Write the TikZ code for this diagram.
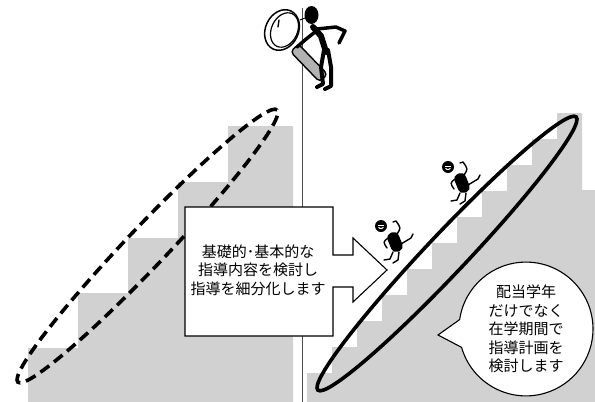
\documentclass[tikz,border=0pt]{standalone}
\usepackage{fontspec}
\newfontfamily\jp{Noto Sans CJK JP}
\usetikzlibrary{shapes.geometric,shapes.callouts}

\tikzset{
  stairfill/.style={fill=black!18},
  oval/.style={ellipse, draw=black, line width=3.6pt, inner sep=0pt,
    minimum width=376pt, minimum height=40pt},
  jptext/.style={font=\jp\fontsize{15}{18.5}\selectfont, align=center, text=black},
  outline/.style={draw=black, line width=1.1pt},
  limb/.style={line width=1.4pt, line cap=round, line join=round},
  walker/.pic={
    % body
    \fill[rounded corners=5pt, rotate=22] (-6,-10) rectangle (6,10);
    % head with its white "e" mark
    \fill (-14,-16) circle [radius=6];
    \draw[white, line width=1pt] (-16.7,-16.3) -- (-11.4,-16.3);
    \draw[white, line width=1pt] (-11.6,-14.8) arc [start angle=30, end angle=150, radius=2.8];
    % arms
    \draw[limb] (2,-8) .. controls (6,-14) .. (1,-21) -- (-2,-20);
    \draw[limb] (6,2) -- (16,-4) -- (18,-8);
    \draw[limb] (-7,-4) .. controls (-12,0) .. (-8,6);
    % legs
    \draw[limb] (-2,10) -- (-5,17) -- (-11,18);
    \draw[limb] (4,10) -- (3,18) -- (-2,21);
  }
}

\begin{document}
\begin{tikzpicture}[x=1pt, y=-1pt]
\useasboundingbox (0,0) rectangle (595,402);

% broad steps on the left
\fill[stairfill] (28,402) -- (28,348) -- (78,348) -- (78,293) -- (128,293)
  -- (128,238) -- (178,238) -- (178,182) -- (228,182) -- (228,126)
  -- (293,126) -- (293,402) -- cycle;

% finer steps on the right
\fill[stairfill] (307,402) -- (307,373) -- (332,373) -- (332,347) -- (357,347)
  -- (357,321) -- (382,321) -- (382,295) -- (407,295) -- (407,269)
  -- (432,269) -- (432,243) -- (457,243) -- (457,217) -- (482,217)
  -- (482,191) -- (507,191) -- (507,165) -- (532,165) -- (532,139)
  -- (557,139) -- (557,113) -- (582,113) -- (582,190) -- (595,190)
  -- (595,402) -- cycle;

% dividing line
\coordinate (ltop) at (302,8);
\coordinate (lbot) at (302,402);
\draw[black!70, line width=0.9pt] (ltop) -- (lbot);

% the two ovals
\node[oval, dashed, dash pattern=on 11pt off 6pt, rotate=46.4] (broad) at (147.5,246) {};
\node[oval, rotate=46.6] (fine) at (447,253.5) {};

% box with arrow
\draw[outline, fill=white] (185,207) -- (333,207) -- (333,255) -- (353,255)
  -- (353,238) -- (387,270) -- (353,302) -- (353,287) -- (333,287)
  -- (333,336) -- (185,336) -- cycle;
\node[jptext] (boxtext) at (258,270) {基礎的･基本的な\\指導内容を検討し\\指導を細分化します};

% speech bubble
\coordinate (tip) at (438,335);
\node[ellipse callout, outline, fill=white, minimum width=134pt, minimum height=132pt,
  callout absolute pointer={(tip)}, callout pointer arc=24, jptext] (note) at (526,329)
  {配当学年\\だけでなく\\在学期間で\\指導計画を\\検討します};

% walkers on the fine steps
\pic at (395,242) {walker};
\pic at (462,183) {walker};

% magnifying glass
\coordinate (lens) at (282,30);
\node[rectangle, draw, fill=black!30, line width=1.4pt, minimum width=42pt, minimum height=11pt,
  rounded corners=4pt, rotate=-46] (grip) at (309,63) {};
\node[ellipse, draw, fill=white, line width=1.5pt, minimum width=33pt, minimum height=42pt,
  rotate=-25] (rim) at (lens) {};
\node[ellipse, draw, fill=white, line width=1.2pt, minimum width=26pt, minimum height=36pt,
  rotate=-25] (glass) at (284.5,30) {};
\coordinate (g1) at (279,20);
\coordinate (g2) at (278,27);
\draw[line width=1.4pt, line cap=round] (g1) -- (g2);

% the inspector
\fill (311.5,15) ellipse [x radius=7, y radius=9];
\draw[line width=6pt, line cap=round, line join=round] (313,27) -- (321,36) -- (326,52);
\draw[line width=3.5pt, line cap=round, line join=round] (317,29) -- (336,27) -- (345,31) -- (339,43);
\draw[line width=3.5pt, line cap=round, line join=round] (315,32) -- (305,40) -- (297,47);
\draw[line width=4pt, line cap=round, line join=round] (324,50) -- (321,67) -- (323,84) -- (317,87);
\draw[line width=4pt, line cap=round, line join=round] (328,50) -- (331,67) -- (331,86) -- (325,89);
\draw[line width=1pt, line cap=round] (305,18) -- (300,20);
\end{tikzpicture}
\end{document}
